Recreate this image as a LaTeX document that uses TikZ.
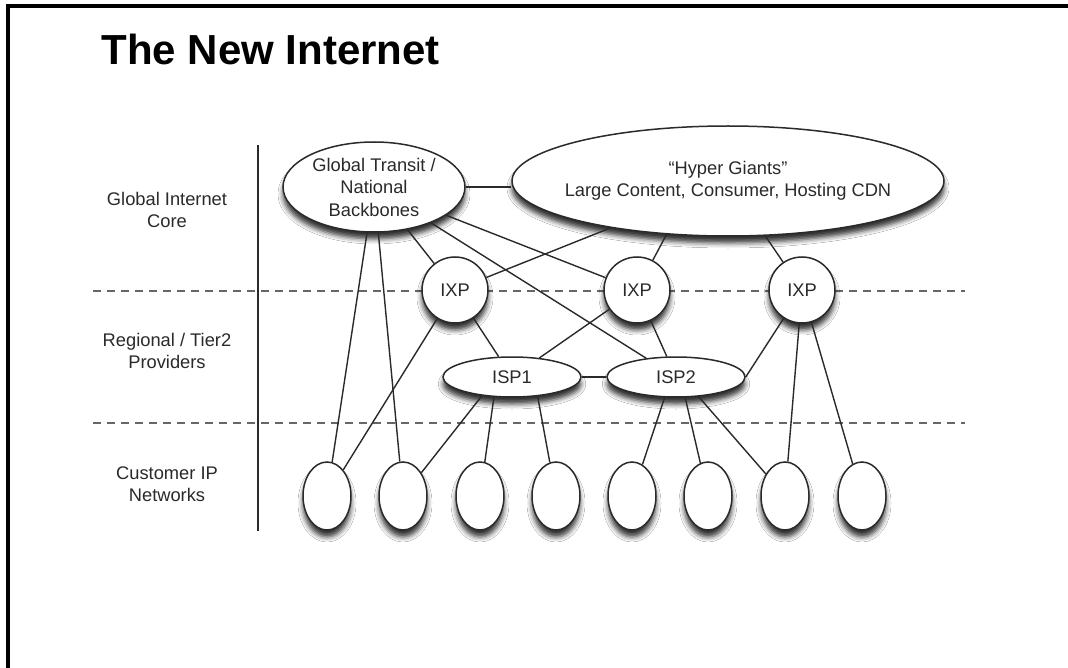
\documentclass[tikz,border=0pt]{standalone}
\usepackage{fontspec}
\setmainfont{Liberation Sans}
\usetikzlibrary{shapes.geometric,shadows.blur}
\definecolor{ink}{HTML}{2A2A2A}
\definecolor{dashc}{HTML}{666666}
\begin{document}
\begin{tikzpicture}[x=1pt,y=-1pt,
  every node/.style={font=\fontsize{18.3}{22.5}\selectfont, text=ink, align=center},
  bub/.style={draw=ink, line width=1.5pt, fill=white,
    blur shadow={shadow xshift=0pt, shadow yshift=-7pt, shadow blur radius=5pt, shadow opacity=80}},
  oval/.style={bub, ellipse, inner sep=0pt},
  ring/.style={bub, circle, minimum size=66pt, inner sep=0pt},
  cust/.style={oval, minimum width=48pt, minimum height=68pt},
  isp/.style={oval, minimum width=138pt, minimum height=40pt},
  link/.style={draw=ink, line width=1.4pt},
  sepline/.style={draw=dashc, line width=2pt, dash pattern=on 8pt off 6pt},
  frame/.style={draw=black, line width=4pt}]
\useasboundingbox (0,0) rectangle (1068,668);
\fill[white] (0,0) rectangle (1068,668);
% frame
\coordinate (fBL) at (8,670);
\coordinate (fTL) at (8,6);
\coordinate (fTR) at (1070,6);
\draw[frame] (fBL) -- (fTL) -- (fTR);
% title
\node[anchor=base west, font=\fontsize{42}{50}\selectfont\bfseries, text=black] (title) at (98,65) {The New Internet};
% layer labels
\node (lcore) at (167,210) {Global Internet\\Core};
\node (lreg) at (167,351) {Regional / Tier2\\Providers};
\node (lcust) at (167,484) {Customer IP\\Networks};
% dashed separators
\coordinate (d1a) at (93,291);
\coordinate (d1b) at (965,291);
\coordinate (d2a) at (93,423);
\coordinate (d2b) at (965,423);
\draw[sepline] (d1a) -- (d1b);
\draw[sepline] (d2a) -- (d2b);
% axis
\coordinate (vt) at (258,145);
\coordinate (vb) at (258,531);
\draw[link] (vt) -- (vb);
% nodes
\node[oval, inner xsep=0pt, inner ysep=-5pt, minimum width=182pt, minimum height=90pt] (GT) at (374,187) {Global Transit /\\National\\Backbones};
\node[oval, inner xsep=-14pt, inner ysep=0pt, minimum width=432pt, minimum height=110pt] (HG) at (728,181) {“Hyper Giants”\\Large Content, Consumer, Hosting CDN};
\node[ring] (IXP1) at (455,290) {IXP};
\node[ring] (IXP2) at (637,290) {IXP};
\node[ring] (IXP3) at (802,290) {IXP};
\node[isp] (ISP1) at (512,377) {ISP1};
\node[isp] (ISP2) at (676,377) {ISP2};
\node[cust] (C1) at (327,496) {};
\node[cust] (C2) at (403,496) {};
\node[cust] (C3) at (480,496) {};
\node[cust] (C4) at (556,496) {};
\node[cust] (C5) at (632,496) {};
\node[cust] (C6) at (708,496) {};
\node[cust] (C7) at (785,496) {};
\node[cust] (C8) at (862,496) {};
% connectors
\draw[link] (GT.east) -- (GT.east -| HG.west);
\draw[link] (GT) -- (IXP1);
\draw[link] (GT) -- (IXP2);
\draw[link] (GT) -- (ISP2);
\draw[link] (GT) -- (C1);
\draw[link] (GT) -- (C2);
\draw[link] (HG) -- (IXP1);
\draw[link] (HG.221) -- (IXP2);
\draw[link] (HG) -- (IXP3);
\draw[link] (IXP1) -- (ISP1);
\draw[link] (IXP1) -- (C1);
\draw[link] (IXP2) -- (ISP1);
\draw[link] (IXP2) -- (ISP2);
\draw[link] (IXP3) -- (ISP2.east);
\draw[link] (IXP3) -- (C7);
\draw[link] (IXP3) -- (C8);
\draw[link] (ISP1) -- (ISP2);
\draw[link] (ISP1.212) -- (C2);
\draw[link] (ISP1.228) -- (C3);
\draw[link] (ISP1.323) -- (C4);
\draw[link] (ISP2.241) -- (C5);
\draw[link] (ISP2.294) -- (C6);
\draw[link] (ISP2.319) -- (C7);
\end{tikzpicture}
\end{document}
